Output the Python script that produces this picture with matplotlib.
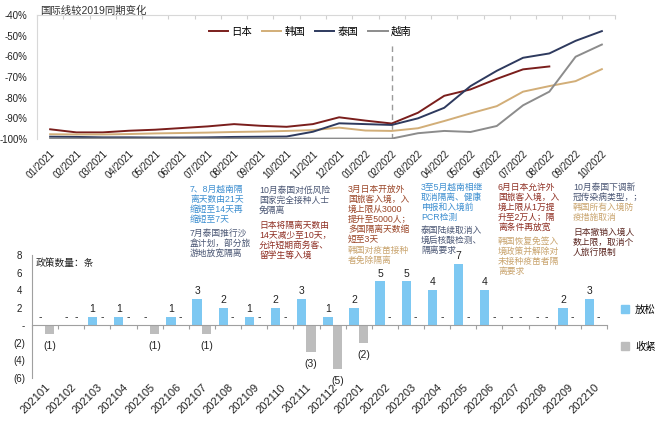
import matplotlib
matplotlib.use('Agg')
import matplotlib.pyplot as plt
import numpy as np
from matplotlib.patches import Patch

plt.rcParams['font.family'] = ['Liberation Sans', 'Noto Sans CJK SC', 'DejaVu Sans']

# ---------------- data ----------------
months = ['01/2021', '02/2021', '03/2021', '04/2021', '05/2021', '06/2021',
          '07/2021', '08/2021', '09/2021', '10/2021', '11/2021', '12/2021',
          '01/2022', '02/2022', '03/2022', '04/2022', '05/2022', '06/2022',
          '07/2022', '08/2022', '09/2022', '10/2022']
japan = [-95.3, -96.8, -96.8, -96.0, -95.5, -94.7, -93.9, -92.8, -93.6, -94.1, -92.8,
         -89.5, -91.1, -92.5, -87.3, -79.1, -76.0, -70.9, -66.3, -64.9, np.nan, np.nan]
korea = [-97.7, -97.8, -97.8, -97.6, -97.3, -97.1, -96.9, -96.6, -96.4, -96.1, -95.7,
         -94.5, -95.9, -96.1, -94.8, -91.3, -87.6, -84.1, -77.1, -74.4, -72.0, -66.2]
thailand = [-98.9, -99.0, -99.2, -99.2, -99.3, -99.3, -99.2, -99.0, -98.9, -98.8, -96.5,
            -92.4, -92.8, -93.2, -90.0, -84.9, -74.4, -67.0, -60.7, -58.6, -52.5, -47.8]
vietnam = [-99.8, -99.8, -99.8, -99.8, -99.8, -99.8, -99.8, -99.8, -99.8, -99.8, -99.8,
           -99.8, -99.8, -99.8, -97.2, -96.1, -96.6, -93.7, -83.7, -77.1, -60.2, -54.3]
y_ticks_top = [-100, -90, -80, -70, -60, -50, -40]
y_labels_top = ['-100%', '-90%', '-80%', '-70%', '-60%', '-50%', '-40%']

policy_months = ['202101', '202102', '202103', '202104', '202105', '202106',
                 '202107', '202108', '202109', '202110', '202111', '202112',
                 '202201', '202202', '202203', '202204', '202205', '202206',
                 '202207', '202208', '202209', '202210']
relax = [0, 0, 1, 1, 0, 1, 3, 2, 1, 2, 3, 1, 2, 5, 5, 4, 7, 4, 0, 0, 2, 3]
tighten = [-1, 0, 0, 0, -1, 0, -1, 0, 0, 0, -3, -5, -2, 0, 0, 0, 0, 0, 0, 0, 0, 0]
y_ticks_bot = [-6, -4, -2, 0, 2, 4, 6, 8]
y_labels_bot = ['(6)', '(4)', '(2)', '-', '2 ', '4 ', '6 ', '8 ']

annotations = [
    (190, 185, '7、8月越南隔\n离天数由21天\n缩短至14天再\n缩短至7天', '#3C8ED0'),
    (190, 229, '7月泰国推行沙\n盒计划，部分旅\n游地放宽隔离', '#4A5674'),
    (259, 186, '10月泰国对低风险\n国家完全接种人士\n免隔离', '#4A5674'),
    (259, 221, '日本将隔离天数由\n14天减少至10天，\n允许短期商务客、\n留学生等入境', '#8E2E22'),
    (348, 185, '3月日本开放外\n国旅客入境，入\n境上限从3000\n提升至5000人；\n多国隔离天数缩\n短至3天', '#9A4527'),
    (348, 246, '韩国对疫苗接种\n者免除隔离', '#C9A46E'),
    (421, 183, '3至5月越南相继\n取消隔离、健康\n申报和入境前\nPCR检测', '#3C8ED0'),
    (421, 226, '泰国陆续取消入\n境后核酸检测、\n隔离要求', '#4A5674'),
    (498, 183, '6月日本允许外\n国旅客入境，入\n境上限从1万提\n升至2万人；隔\n离条件再放宽', '#8E2E22'),
    (498, 237, '韩国恢复免签入\n境政策并解除对\n未接种疫苗者隔\n离要求', '#C9A46E'),
    (573, 183, '10月泰国下调新\n冠传染病类型，；', '#4A5674'),
    (573, 203, '韩国所有入境防\n疫措施取消', '#C9A46E'),
    (573, 228, '日本撤销入境人\n数上限，取消个\n人旅行限制', '#5B2620'),
]

W, H = 660, 424
fig = plt.figure(figsize=(W / 100, H / 100), dpi=100)

# ---------------- top line chart ----------------
ax1 = fig.add_axes([37 / W, 1 - 139 / H, 578 / W, 124 / H])
x = np.arange(len(months))
ax1.plot(x, japan, color='#7A1E1C', lw=1.4, label='日本')
ax1.plot(x, korea, color='#D2AE78', lw=1.4, label='韩国')
ax1.plot(x, thailand, color='#2E3A5E', lw=1.4, label='泰国')
ax1.plot(x, vietnam, color='#8C8C8C', lw=1.4, label='越南')
ax1.axvline(13, ymin=0, ymax=0.78, color='#9A9A9A', ls=(0, (4, 3)), lw=1, zorder=0)
ax1.set_xlim(-0.5, len(months) - 0.5)
ax1.set_ylim(-100, -40)
ax1.set_yticks(y_ticks_top)
ax1.set_yticklabels(y_labels_top, fontsize=7)
ax1.tick_params(axis='y', length=0, pad=7, colors='#222222')
ax1.xaxis.set_ticks_position('top')
ax1.set_xticks(np.arange(-0.5, len(months), 1))
ax1.tick_params(axis='x', direction='in', length=3, color='#D0D0D0', labeltop=False, labelbottom=False)
for s in ['bottom', 'right']:
    ax1.spines[s].set_visible(False)
for s in ['top', 'left']:
    ax1.spines[s].set_color('#D8D8D8')
    ax1.spines[s].set_linewidth(0.8)
sec1 = ax1.secondary_xaxis('bottom')
sec1.set_xticks(x)
sec1.set_xticklabels(months, rotation=45, ha='right', rotation_mode='anchor', fontsize=7)
sec1.tick_params(length=0, pad=7, colors='#222222')
sec1.spines['bottom'].set_visible(False)

fig.legend(*ax1.get_legend_handles_labels(), loc='center',
           bbox_to_anchor=(310 / W, 1 - 32 / H), ncol=4, frameon=False, fontsize=7.5,
           handlelength=1.9, columnspacing=0.9, handletextpad=0.3)
fig.text(40 / W, 1 - 11 / H, '国际线较2019同期变化', fontsize=7.5, va='center', color='#333333')

# ---------------- bottom bar chart ----------------
ax2 = fig.add_axes([32 / W, 1 - 378 / H, 575 / W, 123 / H])
w = 0.36
xb = np.arange(len(policy_months))
ax2.bar(xb - w / 2, relax, w, color='#7DC8F2', label='放松')
ax2.bar(xb + w / 2, tighten, w, color='#BDBDBD', label='收紧')
ax2.set_xlim(-0.5, len(policy_months) - 0.5)
ax2.set_ylim(-6, 8)
ax2.set_yticks(y_ticks_bot)
ax2.set_yticklabels(y_labels_bot, fontsize=7)
ax2.tick_params(axis='y', length=0, pad=5, colors='#222222')
ax2.spines['top'].set_visible(False)
ax2.spines['right'].set_visible(False)
ax2.spines['left'].set_color('#A0A0A0')
ax2.spines['bottom'].set_position(('data', 0))
ax2.spines['bottom'].set_color('#A0A0A0')
ax2.set_xticks(np.arange(-0.5, len(policy_months), 1))
ax2.tick_params(axis='x', direction='out', length=3, color='#A0A0A0', labelbottom=False)
sec2 = ax2.secondary_xaxis('bottom')
sec2.set_xticks(xb)
sec2.set_xticklabels(policy_months, rotation=45, ha='right', rotation_mode='anchor', fontsize=8)
sec2.tick_params(length=0, pad=3, colors='#222222')
sec2.spines['bottom'].set_visible(False)

for i in range(len(policy_months)):
    r = relax[i]
    ax2.annotate(str(r) if r != 0 else '-', (xb[i] - w / 2, r), xytext=(0, 2),
                 textcoords='offset points', ha='center', va='bottom', fontsize=7.5, color='#222222')
    t = tighten[i]
    if t == 0:
        ax2.annotate('-', (xb[i] + w / 2, 0), xytext=(0, 2), textcoords='offset points',
                     ha='center', va='bottom', fontsize=7.5, color='#222222')
    else:
        ax2.annotate(f'({-t})', (xb[i] + w / 2, t), xytext=(0, -5), textcoords='offset points',
                     ha='center', va='top', fontsize=7.5, color='#222222')

fig.text(36 / W, 1 - 263 / H, '政策数量：条', fontsize=7, va='center', color='#222222')
fig.legend(handles=[Patch(color='#7DC8F2'), Patch(color='#BDBDBD')], labels=['放松', '收紧'],
           loc='upper left', bbox_to_anchor=(612 / W, 1 - 295 / H), frameon=False, fontsize=7.5,
           labelspacing=2.6, handlelength=0.7, handleheight=0.7, handletextpad=0.6)

for (ax_, ay_, txt, col) in annotations:
    fig.text(ax_ / W, 1 - ay_ / H, txt, fontsize=6.3, color=col, va='top', ha='left',
             linespacing=1.15)

fig.savefig('out.png', dpi=100)
